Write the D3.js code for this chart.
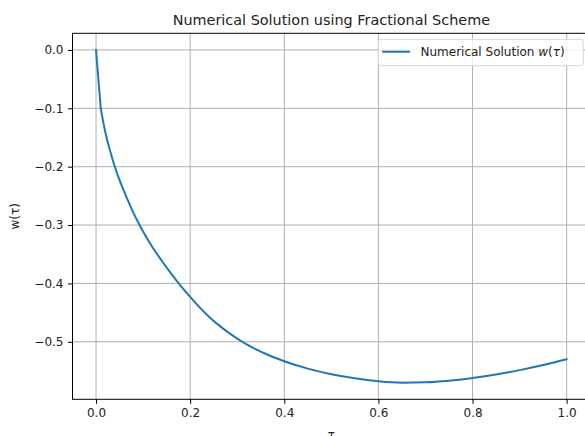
<!DOCTYPE html>
<html>
<head>
<meta charset="utf-8">
<script src="https://cdn.jsdelivr.net/npm/d3@7"></script>
<style>
  body { margin: 0; background: #fff; }
  svg { display: block; font-family: "DejaVu Sans", sans-serif; }
</style>
</head>
<body>
<svg id="chart" width="585" height="436"></svg>
<script>
// values
var tau = [0, 0.01, 0.02, 0.03, 0.04, 0.05, 0.06, 0.07, 0.08, 0.09, 0.10,
    0.12, 0.14, 0.16, 0.18, 0.20, 0.22, 0.24, 0.26, 0.28, 0.30,
    0.32, 0.34, 0.36, 0.38, 0.40, 0.45, 0.50, 0.55, 0.60, 0.65,
    0.70, 0.75, 0.80, 0.85, 0.90, 0.95, 1.00];
var w = [0, -0.100, -0.142, -0.173, -0.200, -0.223, -0.243, -0.262, -0.280, -0.296, -0.311,
    -0.338, -0.3615, -0.3835, -0.404, -0.423, -0.441, -0.4569, -0.471, -0.4835, -0.4945,
    -0.5043, -0.5129, -0.5205, -0.5273, -0.5333, -0.546, -0.5555, -0.5625, -0.5675, -0.570,
    -0.5694, -0.5667, -0.562, -0.556, -0.5485, -0.5398, -0.530];
var xTicks = [0, 0.2, 0.4, 0.6, 0.8, 1.0];
var yTicks = [0, -0.1, -0.2, -0.3, -0.4, -0.5];

var svg = d3.select('#chart');
// plot box (window.top is reserved, so keep these in an object)
var box = { left: 72.5, right: 590.2, top: 33.3, bottom: 399.3 };

// matplotlib style 5% margins
function padded(ext) {
    var p = (ext[1] - ext[0]) * 0.05;
    return [ext[0] - p, ext[1] + p];
}
var x = d3.scaleLinear().domain(padded(d3.extent(tau))).range([box.left, box.right]);
var y = d3.scaleLinear().domain(padded(d3.extent(w))).range([box.bottom, box.top]);
var fmt = d3.format('.1f');

// grid
svg.append('g').selectAll('line').data(xTicks).join('line')
    .attr('x1', function (d) { return x(d); }).attr('x2', function (d) { return x(d); })
    .attr('y1', box.top).attr('y2', box.bottom)
    .attr('stroke', '#b0b0b0').attr('stroke-width', 1);
svg.append('g').selectAll('line').data(yTicks).join('line')
    .attr('y1', function (d) { return y(d); }).attr('y2', function (d) { return y(d); })
    .attr('x1', box.left).attr('x2', box.right)
    .attr('stroke', '#b0b0b0').attr('stroke-width', 1);

// axes
var xAxis = svg.append('g').attr('transform', 'translate(0,' + box.bottom + ')')
    .call(d3.axisBottom(x).tickValues(xTicks).tickFormat(fmt).tickSizeInner(4.5).tickSizeOuter(0).tickPadding(4.5));
var yAxis = svg.append('g').attr('transform', 'translate(' + box.left + ',0)')
    .call(d3.axisLeft(y).tickValues(yTicks).tickFormat(fmt).tickSizeInner(4.5).tickSizeOuter(0).tickPadding(4.5));
[xAxis, yAxis].forEach(function (a) {
    a.attr('font-family', null).attr('font-size', 12);
    a.selectAll('text').attr('fill', '#222');
    a.select('.domain').remove();
});

// spines
svg.append('rect')
    .attr('x', box.left).attr('y', box.top)
    .attr('width', box.right - box.left).attr('height', box.bottom - box.top)
    .attr('fill', 'none').attr('stroke', '#000').attr('stroke-width', 1);

// curve: straight first step, smooth afterwards
var pts = w.map(function (d, i) { return [tau[i], d]; });
var straight = d3.line()
    .x(function (d) { return x(d[0]); })
    .y(function (d) { return y(d[1]); });
var smooth = d3.line()
    .x(function (d) { return x(d[0]); })
    .y(function (d) { return y(d[1]); })
    .curve(d3.curveMonotoneX);
[straight(pts.slice(0, 2)), smooth(pts.slice(1))].forEach(function (d) {
    svg.append('path')
        .attr('d', d)
        .attr('fill', 'none')
        .attr('stroke', '#1f77b4')
        .attr('stroke-width', 2)
        .attr('stroke-linecap', 'round')
        .attr('stroke-linejoin', 'round');
});

// title and labels
var midX = (box.left + box.right) / 2;
svg.append('text').attr('x', midX).attr('y', 25)
    .attr('text-anchor', 'middle').attr('font-size', 14.4).attr('fill', '#222')
    .text('Numerical Solution using Fractional Scheme');
svg.append('text').attr('x', midX).attr('y', 439)
    .attr('text-anchor', 'middle').attr('font-size', 12).attr('fill', '#222')
    .text('τ');
svg.append('text')
    .attr('transform', 'translate(19,' + ((box.top + box.bottom) / 2) + ') rotate(-90)')
    .attr('text-anchor', 'middle').attr('font-size', 12).attr('fill', '#222')
    .text('w(τ)');

// legend
var lg = svg.append('g');
lg.append('rect')
    .attr('x', 378.3).attr('y', 39.3).attr('width', 205).attr('height', 26.4)
    .attr('rx', 3).attr('fill', 'rgba(255,255,255,0.8)')
    .attr('stroke', '#d6d6d6').attr('stroke-width', 1);
lg.append('line')
    .attr('x1', 382).attr('x2', 410).attr('y1', 51.7).attr('y2', 51.7)
    .attr('stroke', '#1f77b4').attr('stroke-width', 2);
var lt = lg.append('text').attr('x', 420.5).attr('y', 56.3)
    .attr('font-size', 12).attr('fill', '#222');
lt.append('tspan').text('Numerical Solution ');
lt.append('tspan').attr('font-style', 'italic').text('w');
lt.append('tspan').text('(');
lt.append('tspan').attr('font-style', 'italic').text('τ');
lt.append('tspan').text(')');
</script>
</body>
</html>
